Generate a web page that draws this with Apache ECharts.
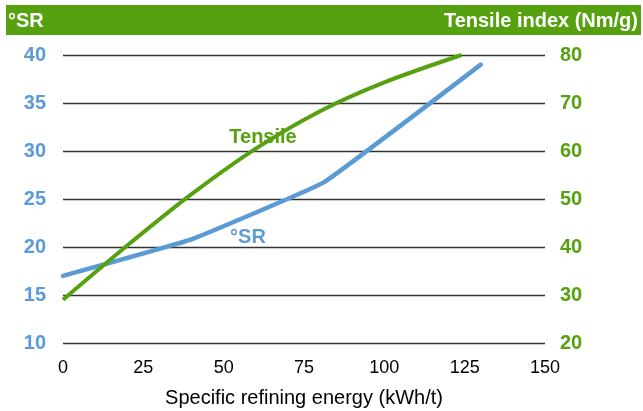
<!DOCTYPE html>
<html><head><meta charset="utf-8">
<script src="https://cdn.jsdelivr.net/npm/echarts@6/dist/echarts.min.js"></script>
<style>html,body{margin:0;padding:0;background:#fff}#c{width:643px;height:411px}</style>
</head><body><div id="c"></div>
<script>
const energySR = [0, 40, 81, 130];
const srValues = [17.0, 20.8, 26.7, 39.0];
const energyTensile = [0, 20, 40, 60, 80, 100, 124];
const tensileValues = [29.0, 40.3, 51.0, 60.5, 68.3, 74.3, 80.0];
const xTicks = [0, 25, 50, 75, 100, 125, 150];
const srTicks = [10, 15, 20, 25, 30, 35, 40];
const tensileTicks = [20, 30, 40, 50, 60, 70, 80];

const BLUE = '#5b9bd5';
const GREEN = '#55a10f';
const FONT = 'Liberation Sans, Arial, sans-serif';

const chart = echarts.init(document.getElementById('c'));
chart.setOption({
  animation: false,
  grid: {left: 63, right: 98, top: 55, bottom: 68, containLabel: false, outerBoundsMode: 'none'},
  graphic: [
    {type: 'rect', shape: {x: 6, y: 5, width: 635, height: 30}, style: {fill: GREEN}, silent: true},
    {type: 'text', x: 8, y: 21, style: {text: '°SR', fill: '#fff', font: 'bold 20px ' + FONT, verticalAlign: 'middle'}},
    {type: 'text', x: 638, y: 21, style: {text: 'Tensile index (Nm/g)', fill: '#fff', font: 'bold 20px ' + FONT, align: 'right', verticalAlign: 'middle'}},
    {type: 'text', x: 263, y: 137, style: {text: 'Tensile', fill: GREEN, font: 'bold 20px ' + FONT, align: 'center', verticalAlign: 'middle'}},
    {type: 'text', x: 248, y: 237, style: {text: '°SR', fill: BLUE, font: 'bold 20px ' + FONT, align: 'center', verticalAlign: 'middle'}}
  ],
  xAxis: {
    type: 'value', min: xTicks[0], max: xTicks[xTicks.length - 1], interval: 25,
    axisLine: {show: false}, axisTick: {show: false}, splitLine: {show: false},
    axisLabel: {color: '#000', fontSize: 18, fontFamily: FONT, margin: 16},
    name: 'Specific refining energy (kWh/t)', nameLocation: 'middle', nameGap: 45,
    nameTextStyle: {color: '#000', fontSize: 20, fontFamily: FONT}
  },
  yAxis: [
    {
      type: 'value', min: srTicks[0], max: srTicks[srTicks.length - 1], interval: 5,
      axisLine: {show: false}, axisTick: {show: false},
      splitLine: {show: true, lineStyle: {color: '#333', width: 1.3}},
      axisLabel: {color: BLUE, fontSize: 20, fontWeight: 'bold', fontFamily: FONT, margin: 17}
    },
    {
      type: 'value', min: tensileTicks[0], max: tensileTicks[tensileTicks.length - 1], interval: 10,
      position: 'right',
      axisLine: {show: false}, axisTick: {show: false}, splitLine: {show: false},
      axisLabel: {color: GREEN, fontSize: 20, fontWeight: 'bold', fontFamily: FONT, margin: 15}
    }
  ],
  series: [
    {
      type: 'line', yAxisIndex: 0, showSymbol: false, symbol: 'none',
      data: energySR.map((x, i) => [x, srValues[i]]),
      lineStyle: {color: BLUE, width: 4.5, cap: 'round'}, smooth: 0.08, z: 3
    },
    {
      type: 'line', yAxisIndex: 1, showSymbol: false, symbol: 'none',
      data: energyTensile.map((x, i) => [x, tensileValues[i]]),
      lineStyle: {color: GREEN, width: 4}, smooth: 0.3, z: 4
    }
  ]
});
</script></body></html>
